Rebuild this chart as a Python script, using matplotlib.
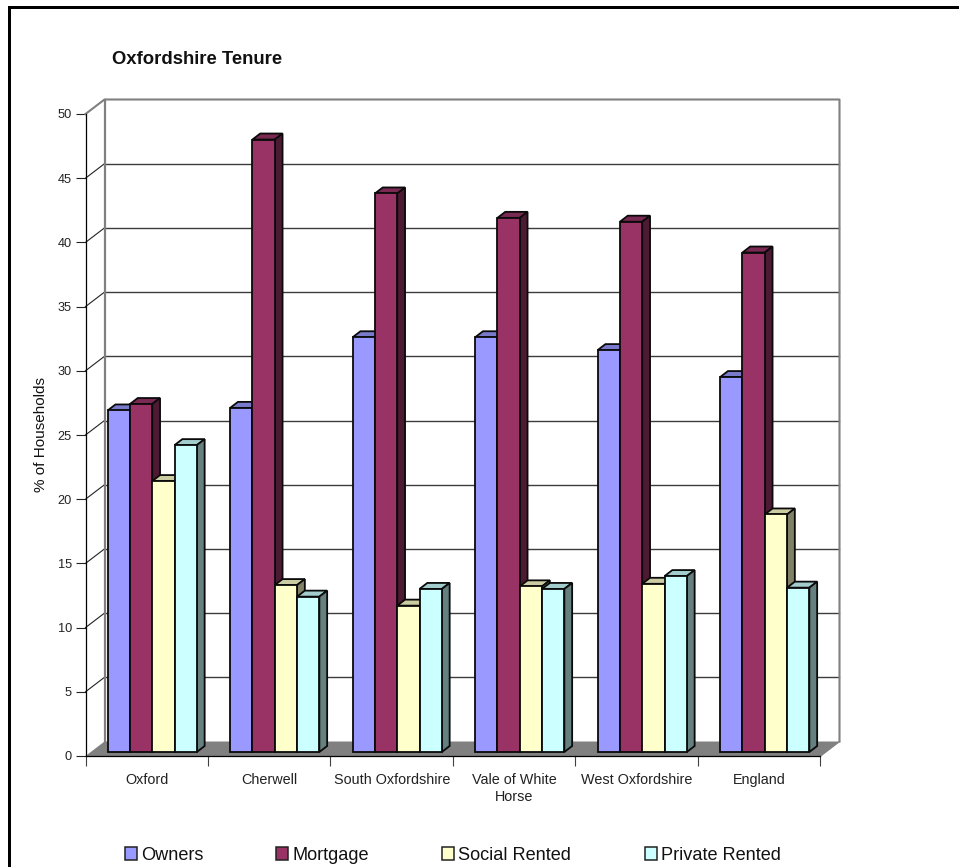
import numpy as np
import matplotlib
matplotlib.use("Agg")
import matplotlib.pyplot as plt
from matplotlib.patches import Rectangle

plt.rcParams['font.family'] = ['Liberation Sans', 'DejaVu Sans']

places = ['Oxford', 'Cherwell', 'South Oxfordshire', 'Vale of White\nHorse', 'West Oxfordshire', 'England']
owners = [26.6, 26.8, 32.3, 32.3, 31.3, 29.2]
mortgage = [27.1, 47.7, 43.5, 41.6, 41.3, 38.9]
social = [21.1, 13.0, 11.4, 12.9, 13.1, 18.5]
private = [23.9, 12.1, 12.7, 12.7, 13.7, 12.8]

names = ['Owners', 'Mortgage', 'Social Rented', 'Private Rented']
series = [owners, mortgage, social, private]
colors = ['#9999FF', '#993366', '#FFFFCC', '#CCFFFF']
tops = ['#7A7ACC', '#7A2952', '#CCCCA3', '#A3CCCC']
sides = ['#4D4D80', '#4D1A33', '#808066', '#668080']

W, H = 959, 867
fig = plt.figure(figsize=(W / 100, H / 100), dpi=100)
ax = fig.add_axes([85.5 / W, 1 - 756 / H, 735 / W, 642 / H])
ax.set_xlim(0, 6)
ax.set_ylim(0, 50)

# pixels per unit on the front plane, used for the fake 3d offsets
px_x = 735 / 6
px_y = 642 / 50
depth_x = 19 / px_x
depth_y = 14.5 / px_y
shift_x = 5.5 / px_x
shift_y = 4 / px_y
bar_dx = 7.8 / px_x
bar_dy = 6 / px_y
bar_w = 22.3 / px_x
gap = (1 - 4 * bar_w) / 2

wall = '#808080'
grid = '#3c3c3c'
edge = '#0a0a0a'

# floor and back walls
ax.fill([0, 6, 6 + depth_x, depth_x], [0, 0, depth_y, depth_y], color=wall, lw=0, zorder=1, clip_on=False)
for v in range(5, 50, 5):
    ax.plot([0, depth_x], [v, v + depth_y], color='#222222', lw=0.8, zorder=1.5, clip_on=False)
    ax.plot([depth_x, 6 + depth_x], [v + depth_y, v + depth_y], color=grid, lw=1, zorder=1.5, clip_on=False)
ax.plot([0, depth_x, 6 + depth_x, 6 + depth_x], [50, 50 + depth_y, 50 + depth_y, depth_y],
        color=wall, lw=1.5, zorder=1.6, clip_on=False)
ax.plot([depth_x, depth_x], [depth_y, 50 + depth_y], color=wall, lw=1.6, zorder=1.6, clip_on=False)
ax.plot([6, 6 + depth_x], [0, depth_y], color=wall, lw=1, zorder=1.6, clip_on=False)

base = np.arange(6) + gap + shift_x
for j, vals in enumerate(series):
    xs = base + j * bar_w
    for x, v in zip(xs, vals):
        y0 = shift_y
        y1 = shift_y + v
        x1 = x + bar_w
        ax.fill([x, x1, x1 + bar_dx, x + bar_dx], [y1, y1, y1 + bar_dy, y1 + bar_dy],
                facecolor=tops[j], edgecolor=edge, lw=1.3, zorder=3, clip_on=False)
        ax.fill([x1, x1 + bar_dx, x1 + bar_dx, x1], [y0, y0 + bar_dy, y1 + bar_dy, y1],
                facecolor=sides[j], edgecolor=edge, lw=1.3, zorder=3, clip_on=False)
    ax.bar(xs, vals, bar_w, bottom=shift_y, align='edge', color=colors[j],
           edgecolor=edge, lw=1.3, zorder=3, clip_on=False)

for s in ['top', 'right']:
    ax.spines[s].set_visible(False)
for s in ['left', 'bottom']:
    ax.spines[s].set_zorder(2)
    ax.spines[s].set_linewidth(0.9)

ax.set_yticks(range(0, 55, 5))
ax.tick_params(axis='y', length=7.2, width=0.8, pad=2.5, labelsize=9.2, colors='#222222')
ax.set_xticks(range(7))
ax.set_xticklabels([])
ax.tick_params(axis='x', which='major', length=7.4, width=0.8, color='#404040')
ax.set_xticks(np.arange(6) + 0.5, places, minor=True)
ax.tick_params(axis='x', which='minor', length=0, pad=12, labelsize=10.35, labelcolor='#222222')
for lab in ax.get_xticklabels(minor=True):
    lab.set_linespacing(1.3)

fig.text(40.7 / W, 1 - 435 / H, '% of Households', rotation=90, fontsize=11, color='#111111',
         ha='center', va='center')
fig.text(112.5 / W, 1 - 64 / H, 'Oxfordshire Tenure', fontsize=13.3, fontweight='bold',
         color='#111111', ha='left', va='baseline')

# legend along the bottom edge
legend_x = [125, 276, 441.7, 644.5]
for name, col, lx in zip(names, colors, legend_x):
    fig.patches.append(Rectangle((lx / W, 1 - 859.7 / H), 12.3 / W, 12.3 / H, transform=fig.transFigure,
                                 facecolor=col, edgecolor='#222222', lw=1.1))
    fig.text((lx + 16.2) / W, 1 - 860.5 / H, name, fontsize=13.1, color='#111111', ha='left', va='baseline')

# heavy frame on the top and left of the sheet
fig.patches.append(Rectangle((8 / W, 0), 3 / W, 1 - 6 / H, transform=fig.transFigure, facecolor='black', lw=0))
fig.patches.append(Rectangle((8 / W, 1 - 9 / H), 1, 3 / H, transform=fig.transFigure, facecolor='black', lw=0))

fig.savefig('out.png', dpi=100)
